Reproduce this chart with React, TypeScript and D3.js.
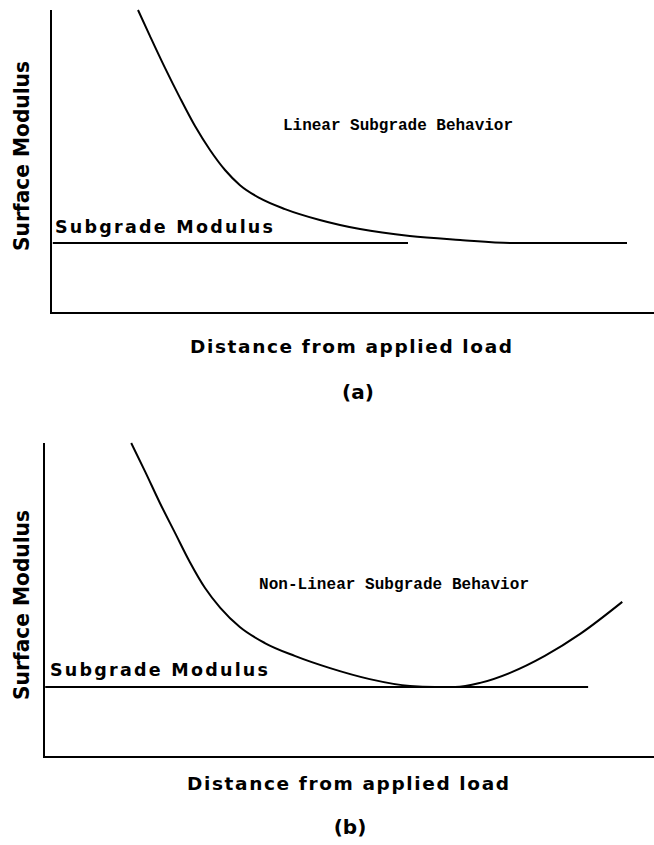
import React from "react";
import * as d3 from "d3";

// Panel (a): linear subgrade behaviour (distance units 0-100, modulus units 0-100)
const distA = [14.5, 16.5, 19.0, 21.5, 24.0, 26.5, 29.0, 31.5, 34.8, 39.0, 44.8, 51.5, 59.8, 68.2, 76.5, 96.0];
const modA = [100, 91.4, 80.9, 71.0, 61.7, 53.8, 47.2, 42.2, 37.9, 34.3, 30.7, 27.7, 25.4, 24.1, 23.1, 23.1];
const subgradeA = { value: 23.1, from: 0.3, to: 59.5 };

// Panel (b): non-linear subgrade behaviour
const distB = [14.3, 16.6, 19.0, 21.5, 23.9, 26.4, 28.9, 32.1, 36.2, 41.1, 46.9, 53.4, 60.0, 64.1, 67.4, 71.5, 76.4, 82.1, 87.9, 94.8];
const modB = [100, 90.8, 80.9, 71.3, 62.1, 53.8, 47.5, 41.4, 36.3, 32.2, 28.3, 24.8, 22.6, 22.3, 22.3, 23.6, 26.8, 32.2, 39.2, 49.4];
const subgradeB = { value: 22.3, from: 0.2, to: 89.2 };

const yLabel = "Surface Modulus";
const xLabel = "Distance from applied load";
const subgradeLabel = "Subgrade Modulus";
const behaviorLabels = ["Linear Subgrade Behavior", "Non-Linear Subgrade Behavior"];
const panelTags = ["(a)", "(b)"];

const SANS = "'DejaVu Sans', Verdana, sans-serif";
const MONO = "'Liberation Mono', 'Courier New', monospace";

type PanelProps = {
  dist: number[];
  mod: number[];
  sub: { value: number; from: number; to: number };
  layout: {
    axisX: number; top: number; bottom: number; right: number;
    subLabelX: number; subLabelY: number;
    yLabelX: number; yLabelY: number;
    behX: number; behY: number; behW: number;
    xLabelX: number; xLabelY: number;
    tagX: number; tagY: number;
  };
  behavior: string;
  tag: string;
};

function Panel({ dist, mod, sub, layout, behavior, tag }: PanelProps) {
  const L = layout;
  const xs = d3.scaleLinear().domain([0, 100]).range([L.axisX, L.right]);
  const y = d3.scaleLinear().domain([0, 100]).range([L.bottom, L.top]);
  const pts: [number, number][] = dist.map((d, i) => [d, mod[i]]);
  const line = d3
    .line<[number, number]>()
    .x((d) => xs(d[0]))
    .y((d) => y(d[1]))
    .curve(d3.curveMonotoneX);
  return (
    <g>
      {/* axes */}
      <line x1={L.axisX} y1={L.top} x2={L.axisX} y2={L.bottom + 1} stroke="#000" strokeWidth={2} />
      <line x1={L.axisX - 1} y1={L.bottom} x2={654} y2={L.bottom} stroke="#000" strokeWidth={2} />
      {/* subgrade modulus line */}
      <line
        x1={xs(sub.from)}
        x2={xs(sub.to)}
        y1={y(sub.value)}
        y2={y(sub.value)}
        stroke="#000"
        strokeWidth={1.8}
      />
      {/* curve */}
      <path d={line(pts) || ""} fill="none" stroke="#000" strokeWidth={2} />
      {/* labels */}
      <text
        x={L.subLabelX}
        y={L.subLabelY}
        fontFamily={SANS}
        fontWeight="bold"
        fontSize={17.5}
        textLength={218}
        lengthAdjust="spacing"
      >
        {subgradeLabel}
      </text>
      <text
        transform={`translate(${L.yLabelX},${L.yLabelY}) rotate(-90)`}
        textAnchor="middle"
        fontFamily={SANS}
        fontWeight="bold"
        fontSize={22}
        textLength={190}
        lengthAdjust="spacingAndGlyphs"
      >
        {yLabel}
      </text>
      <text
        x={L.behX}
        y={L.behY}
        fontFamily={MONO}
        fontWeight="bold"
        fontSize={16}
        textLength={L.behW}
        lengthAdjust="spacing"
      >
        {behavior}
      </text>
      <text
        x={L.xLabelX}
        y={L.xLabelY}
        fontFamily={SANS}
        fontWeight="bold"
        fontSize={18.5}
        textLength={322}
        lengthAdjust="spacing"
      >
        {xLabel}
      </text>
      <text
        x={L.tagX}
        y={L.tagY}
        textAnchor="middle"
        fontFamily={SANS}
        fontWeight="bold"
        fontSize={20}
      >
        {tag}
      </text>
    </g>
  );
}

export default function App() {
  return (
    <svg
      width={654}
      height={845}
      viewBox="0 0 654 845"
      style={{ position: "absolute", left: 0, top: 0, background: "#fff" }}
    >
      <rect x={0} y={0} width={654} height={845} fill="#fff" />
      <Panel
        dist={distA}
        mod={modA}
        sub={subgradeA}
        behavior={behaviorLabels[0]}
        tag={panelTags[0]}
        layout={{
          axisX: 51, top: 10, bottom: 313, right: 651,
          subLabelX: 55, subLabelY: 233,
          yLabelX: 29, yLabelY: 156,
          behX: 283, behY: 130, behW: 230,
          xLabelX: 190, xLabelY: 353,
          tagX: 358, tagY: 399,
        }}
      />
      <Panel
        dist={distB}
        mod={modB}
        sub={subgradeB}
        behavior={behaviorLabels[1]}
        tag={panelTags[1]}
        layout={{
          axisX: 44, top: 443, bottom: 757, right: 654,
          subLabelX: 50, subLabelY: 676,
          yLabelX: 29, yLabelY: 605,
          behX: 259, behY: 589, behW: 270,
          xLabelX: 187, xLabelY: 790,
          tagX: 350, tagY: 834,
        }}
      />
    </svg>
  );
}
